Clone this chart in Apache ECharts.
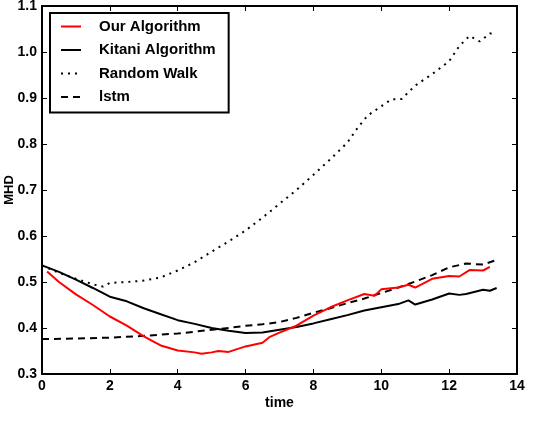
<!DOCTYPE html>
<html>
<head>
<meta charset="utf-8">
<script src="https://cdn.jsdelivr.net/npm/echarts@6/dist/echarts.min.js"></script>
<style>html,body{margin:0;padding:0;background:#fff}#c{width:552px;height:440px}</style>
</head>
<body>
<div id="c"></div>
<script>
// ---- data ----
const xTicks = [0, 2, 4, 6, 8, 10, 12, 14];
const yTicks = [0.3, 0.4, 0.5, 0.6, 0.7, 0.8, 0.9, 1.0, 1.1];

const ourTime = [0.15,0.5,1,1.5,2,2.5,3,3.3,3.5,4,4.5,4.7,5,5.2,5.5,6,6.5,6.7,7,7.5,8,8.5,9,9.5,9.8,10,10.5,10.8,11,11.5,12,12.3,12.6,13,13.2];
const ourMHD  = [0.523,0.50,0.473,0.45,0.425,0.405,0.382,0.37,0.362,0.351,0.347,0.344,0.347,0.35,0.348,0.36,0.368,0.38,0.39,0.405,0.427,0.445,0.46,0.474,0.47,0.484,0.488,0.494,0.488,0.507,0.513,0.512,0.526,0.525,0.533];

const kitaniTime = [0,0.5,1,1.5,2,2.5,3,3.5,4,4.5,5,5.5,6,6.5,7,7.5,8,8.5,9,9.5,10,10.5,10.8,11,11.5,12,12.3,12.5,13,13.2,13.4];
const kitaniMHD  = [0.536,0.522,0.505,0.487,0.468,0.458,0.443,0.43,0.417,0.409,0.4,0.394,0.389,0.39,0.396,0.402,0.41,0.419,0.428,0.438,0.445,0.452,0.46,0.451,0.462,0.475,0.472,0.474,0.483,0.481,0.487];

const walkTime = [0,0.5,1,1.5,1.8,2,2.5,3,3.5,4,4.5,5,5.5,6,6.5,7,7.5,8,8.5,9,9.3,9.6,10,10.3,10.6,11,11.5,12,12.3,12.6,12.9,13.2,13.4];
const walkMHD  = [0.536,0.52,0.507,0.495,0.49,0.498,0.5,0.503,0.51,0.525,0.543,0.566,0.588,0.612,0.64,0.67,0.70,0.733,0.767,0.803,0.835,0.862,0.882,0.897,0.898,0.927,0.952,0.98,1.013,1.035,1.023,1.04,1.041];

const lstmTime = [0,1,2,3,4,5,5.5,6,6.5,7,7.5,8,8.5,9,9.5,10,10.5,11,11.5,12,12.5,13,13.4];
const lstmMHD  = [0.376,0.377,0.379,0.383,0.388,0.396,0.40,0.405,0.408,0.413,0.422,0.433,0.443,0.454,0.464,0.476,0.488,0.501,0.515,0.532,0.54,0.538,0.548];

const seriesNames = ['Our Algorithm', 'Kitani Algorithm', 'Random Walk', 'lstm'];

function pairs(xs, ys) { return xs.map((x, i) => [x, ys[i]]); }

const FONT = 'Liberation Sans';
const chart = echarts.init(document.getElementById('c'), null, {renderer: 'canvas'});

const axisLineStyle = {color: '#000', width: 2};
const baseX = {
  type: 'value', min: xTicks[0], max: xTicks[xTicks.length - 1], interval: 2,
  splitLine: {show: false},
  axisLine: {show: true, onZero: false, lineStyle: axisLineStyle},
  axisTick: {show: true, inside: true, length: 5, lineStyle: {color: '#000', width: 1}}
};
const baseY = {
  type: 'value', min: yTicks[0], max: yTicks[yTicks.length - 1], interval: 0.1,
  splitLine: {show: false},
  axisLine: {show: true, onZero: false, lineStyle: axisLineStyle},
  axisTick: {show: true, inside: true, length: 5, lineStyle: {color: '#000', width: 1}}
};

chart.setOption({
  animation: false,
  backgroundColor: '#fff',
  grid: {left: 42, right: 35, top: 6, bottom: 66, containLabel: false, outerBoundsMode: 'none'},
  legend: {
    left: 50, top: 13,
    orient: 'vertical',
    data: seriesNames,
    itemWidth: 20, itemHeight: 14, itemGap: 8.5,
    padding: [6, 13, 8, 10],
    borderColor: '#000', borderWidth: 2, borderRadius: 0,
    backgroundColor: '#fff',
    itemStyle: {opacity: 0},
    textStyle: {fontFamily: FONT, fontWeight: 'bold', fontSize: 15, color: '#000', padding: [0, 0, 0, 13]}
  },
  xAxis: [
    Object.assign({}, baseX, {
      position: 'bottom', name: 'time', nameLocation: 'middle', nameGap: 22, nameMoveOverlap: false,
      nameTextStyle: {fontFamily: FONT, fontWeight: 'bold', fontSize: 14, color: '#000'},
      axisLabel: {show: true, margin: 5, fontFamily: FONT, fontWeight: 'bold', fontSize: 14, color: '#000'}
    }),
    Object.assign({}, baseX, {position: 'top', axisLabel: {show: false}})
  ],
  yAxis: [
    Object.assign({}, baseY, {
      position: 'left', name: 'MHD', nameLocation: 'middle', nameGap: 26, nameRotate: 90, nameMoveOverlap: false,
      nameTextStyle: {fontFamily: FONT, fontWeight: 'bold', fontSize: 13, color: '#000'},
      axisLabel: {show: true, margin: 5, fontFamily: FONT, fontWeight: 'bold', fontSize: 14, color: '#000',
        formatter: v => v.toFixed(1)}
    }),
    Object.assign({}, baseY, {position: 'right', axisLabel: {show: false}})
  ],
  series: [
    {name: seriesNames[0], type: 'line', data: pairs(ourTime, ourMHD), symbol: 'none',
     lineStyle: {color: '#ff0000', width: 2}, itemStyle: {color: '#ff0000'}, z: 5},
    {name: seriesNames[1], type: 'line', data: pairs(kitaniTime, kitaniMHD), symbol: 'none',
     lineStyle: {color: '#000', width: 2}, itemStyle: {color: '#000'}},
    {name: seriesNames[2], type: 'line', data: pairs(walkTime, walkMHD), symbol: 'none',
     lineStyle: {color: '#000', width: 2, type: [2, 5]}, itemStyle: {color: '#000'}},
    {name: seriesNames[3], type: 'line', data: pairs(lstmTime, lstmMHD), symbol: 'none',
     lineStyle: {color: '#000', width: 2, type: [7, 5]}, itemStyle: {color: '#000'}}
  ]
});
</script>
</body>
</html>
